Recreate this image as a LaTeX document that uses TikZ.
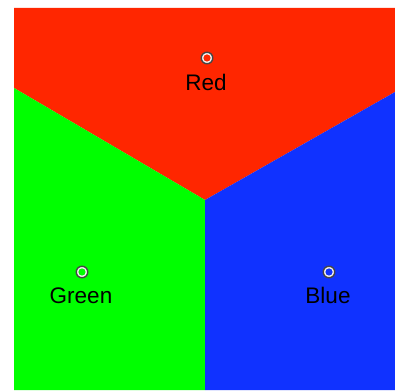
\documentclass[tikz,border=0pt]{standalone}
\usepackage{fontspec}
\setmainfont{Liberation Sans}
\definecolor{cred}{RGB}{255,38,0}
\definecolor{cgreen}{RGB}{0,255,0}
\definecolor{cblue}{RGB}{16,50,255}
\definecolor{ringgray}{RGB}{70,70,70}
\begin{document}
\begin{tikzpicture}[x=1pt,y=1pt,
  site/.style={circle,draw=ringgray,line width=1.4pt,fill=white!92!gray,inner sep=0pt,minimum size=11.5pt},
  lbl/.style={font=\fontsize{22.5}{25}\selectfont,inner sep=0pt,anchor=base}]
\useasboundingbox (0,0) rectangle (395,390);
\coordinate (tl) at (14,382);
\coordinate (tr) at (395,382);
\coordinate (bl) at (14,0);
\coordinate (br) at (395,0);
\coordinate (lj) at (14,302);
\coordinate (rj) at (395,298);
\coordinate (c) at (205,190);
\coordinate (cb) at (205,0);
\fill[cred] (tl) -- (tr) -- (rj) -- (c) -- (lj) -- cycle;
\fill[cgreen] (lj) -- (c) -- (cb) -- (bl) -- cycle;
\fill[cblue] (c) -- (rj) -- (br) -- (cb) -- cycle;
\node[site] (r) at (207,332) {};
\fill[cred] (r.center) circle (3.6pt);
\node[site] (g) at (82,118) {};
\fill[cgreen] (g.center) circle (3.6pt);
\node[site] (b) at (329,118) {};
\fill[cblue] (b.center) circle (3.6pt);
\node[lbl] (rl) at (206,299.5) {Red};
\node[lbl] (gl) at (81,86.5) {Green};
\node[lbl] (bl2) at (328,86.5) {Blue};
\end{tikzpicture}
\end{document}
